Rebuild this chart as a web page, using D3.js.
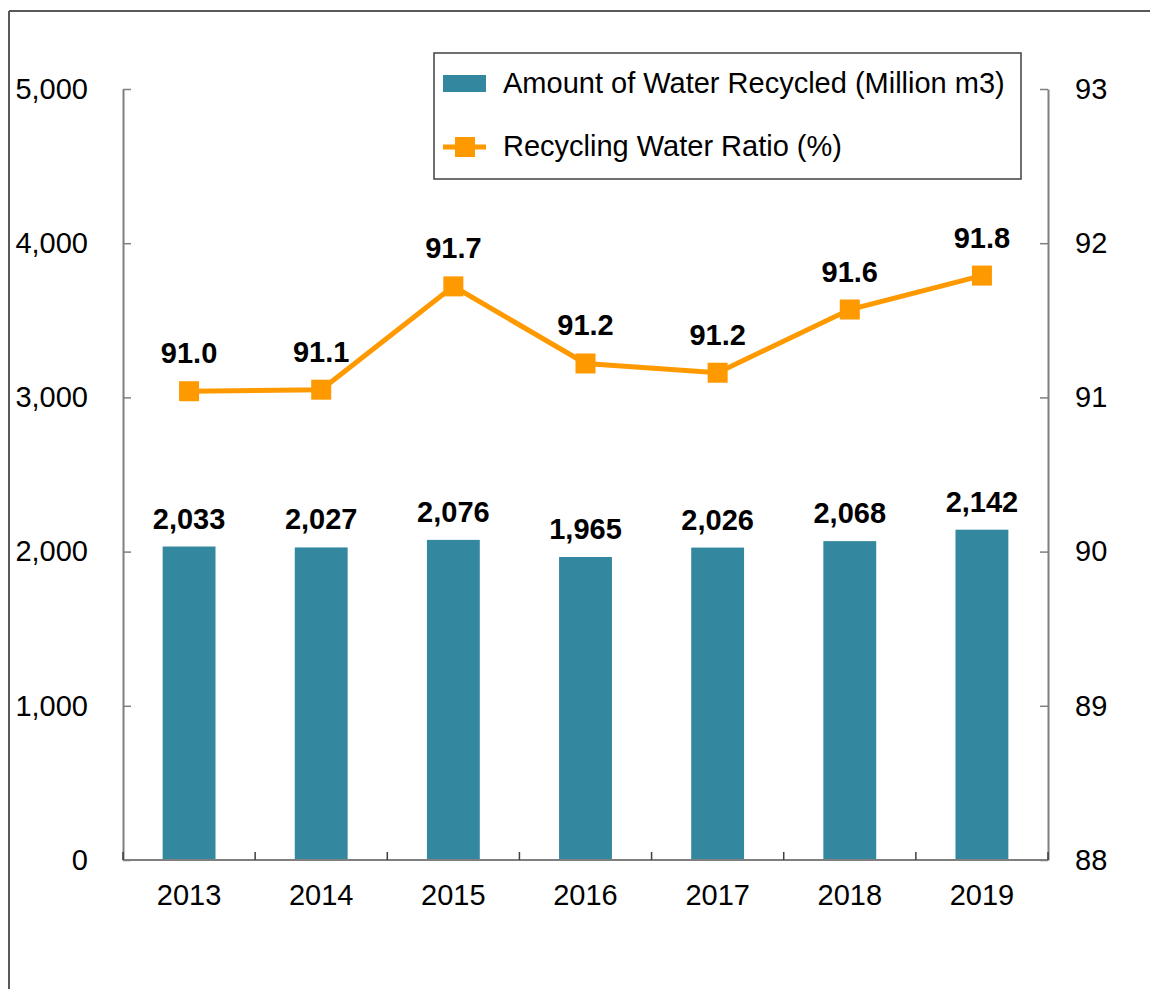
<!DOCTYPE html>
<html>
<head>
<meta charset="utf-8">
<script src="https://cdn.jsdelivr.net/npm/d3@7"></script>
<style>
  body { margin: 0; background: #fff; }
  svg { font-family: "Liberation Sans", Arial, sans-serif; }
</style>
</head>
<body>
<div id="chart"></div>
<script>
const years = ["2013", "2014", "2015", "2016", "2017", "2018", "2019"];
const recycled = [2033, 2027, 2076, 1965, 2026, 2068, 2142];
const ratio = [91.04, 91.05, 91.72, 91.22, 91.16, 91.57, 91.79];
const ratioLabels = ["91.0", "91.1", "91.7", "91.2", "91.2", "91.6", "91.8"];
const leftTicks = [0, 1000, 2000, 3000, 4000, 5000];
const rightTicks = [88, 89, 90, 91, 92, 93];

const width = 1150, height = 989;
const margin = { top: 89, right: 102, bottom: 129, left: 123 };
const innerW = width - margin.left - margin.right;
const innerH = height - margin.top - margin.bottom;
const fs = "29px";

const barColor = "#33879e";
const lineColor = "#ff9900";
const axisColor = "#7f7f7f";

const svg = d3.select("#chart").append("svg")
  .attr("width", width).attr("height", height);

// outer frame (top and left edges only visible)
svg.append("line").attr("x1", 9).attr("x2", width).attr("y1", 11).attr("y2", 11)
  .attr("stroke", "#595959").attr("stroke-width", 2);
svg.append("line").attr("x1", 9).attr("x2", 9).attr("y1", 11).attr("y2", height)
  .attr("stroke", "#595959").attr("stroke-width", 2);

const g = svg.append("g").attr("transform", `translate(${margin.left},${margin.top})`);

const x = d3.scaleBand().domain(years).range([0, innerW]).paddingInner(0.6).paddingOuter(0.3);
const y = d3.scaleLinear().domain([0, 5000]).range([innerH, 0]);
const y2 = d3.scaleLinear().domain([88, 93]).range([innerH, 0]);

// bars
g.selectAll(".bar").data(recycled).join("rect")
  .attr("x", (d, i) => x(years[i]))
  .attr("y", d => y(d))
  .attr("width", x.bandwidth())
  .attr("height", d => innerH - y(d))
  .attr("fill", barColor);

// axes
const styleAxis = sel => {
  sel.select(".domain").attr("stroke", axisColor).attr("stroke-width", 2);
  sel.selectAll(".tick line").attr("stroke", axisColor).attr("stroke-width", 1.5);
  sel.selectAll("text").attr("fill", "#000").style("font-size", fs);
};

g.append("g")
  .call(d3.axisLeft(y).tickValues(leftTicks).tickFormat(d3.format(",")).tickSizeInner(-8).tickSizeOuter(0).tickPadding(35))
  .call(styleAxis);

g.append("g").attr("transform", `translate(${innerW},0)`)
  .call(d3.axisRight(y2).tickValues(rightTicks).tickFormat(d3.format("d")).tickSizeInner(-8).tickSizeOuter(0).tickPadding(27))
  .call(styleAxis);

// x axis: ticks at category boundaries, pointing up
const bounds = d3.range(years.length + 1).map(i => i * (innerW / years.length));
const xa = g.append("g").attr("transform", `translate(0,${innerH})`);
xa.append("line").attr("x1", 0).attr("x2", innerW)
  .attr("stroke", axisColor).attr("stroke-width", 2);
xa.selectAll(".bt").data(bounds).join("line")
  .attr("x1", d => d).attr("x2", d => d).attr("y1", 0).attr("y2", -8)
  .attr("stroke", "#404040").attr("stroke-width", 1.5);
xa.selectAll(".yl").data(years).join("text")
  .attr("x", d => x(d) + x.bandwidth() / 2).attr("y", 45)
  .attr("text-anchor", "middle").style("font-size", fs).text(d => d);

// bar labels
g.selectAll(".bl").data(recycled).join("text")
  .attr("x", (d, i) => x(years[i]) + x.bandwidth() / 2)
  .attr("y", d => y(d) - 18)
  .attr("text-anchor", "middle").style("font-size", fs).style("font-weight", "bold")
  .text(d => d3.format(",")(d));

// line
const cx = i => x(years[i]) + x.bandwidth() / 2;
g.append("path").datum(ratio)
  .attr("fill", "none").attr("stroke", lineColor).attr("stroke-width", 5)
  .attr("d", d3.line().x((d, i) => cx(i)).y(d => y2(d)));

g.selectAll(".mk").data(ratio).join("rect")
  .attr("x", (d, i) => cx(i) - 10).attr("y", d => y2(d) - 10)
  .attr("width", 20).attr("height", 20).attr("fill", lineColor);

g.selectAll(".ll").data(ratio).join("text")
  .attr("x", (d, i) => cx(i))
  .attr("y", d => y2(d) - 28)
  .attr("text-anchor", "middle").style("font-size", fs).style("font-weight", "bold")
  .text((d, i) => ratioLabels[i]);

// legend
const lg = svg.append("g").attr("transform", "translate(434,53)");
lg.append("rect").attr("width", 587).attr("height", 126)
  .attr("fill", "#fff").attr("stroke", "#404040").attr("stroke-width", 1.5);
lg.append("rect").attr("x", 9).attr("y", 22).attr("width", 43).attr("height", 17).attr("fill", barColor);
lg.append("text").attr("x", 69).attr("y", 40).style("font-size", fs).text("Amount of Water Recycled (Million m3)");
lg.append("line").attr("x1", 9).attr("x2", 52).attr("y1", 94).attr("y2", 94)
  .attr("stroke", lineColor).attr("stroke-width", 5);
lg.append("rect").attr("x", 21).attr("y", 84).attr("width", 20).attr("height", 20).attr("fill", lineColor);
lg.append("text").attr("x", 69).attr("y", 103).style("font-size", fs).text("Recycling Water Ratio (%)");
</script>
</body>
</html>
